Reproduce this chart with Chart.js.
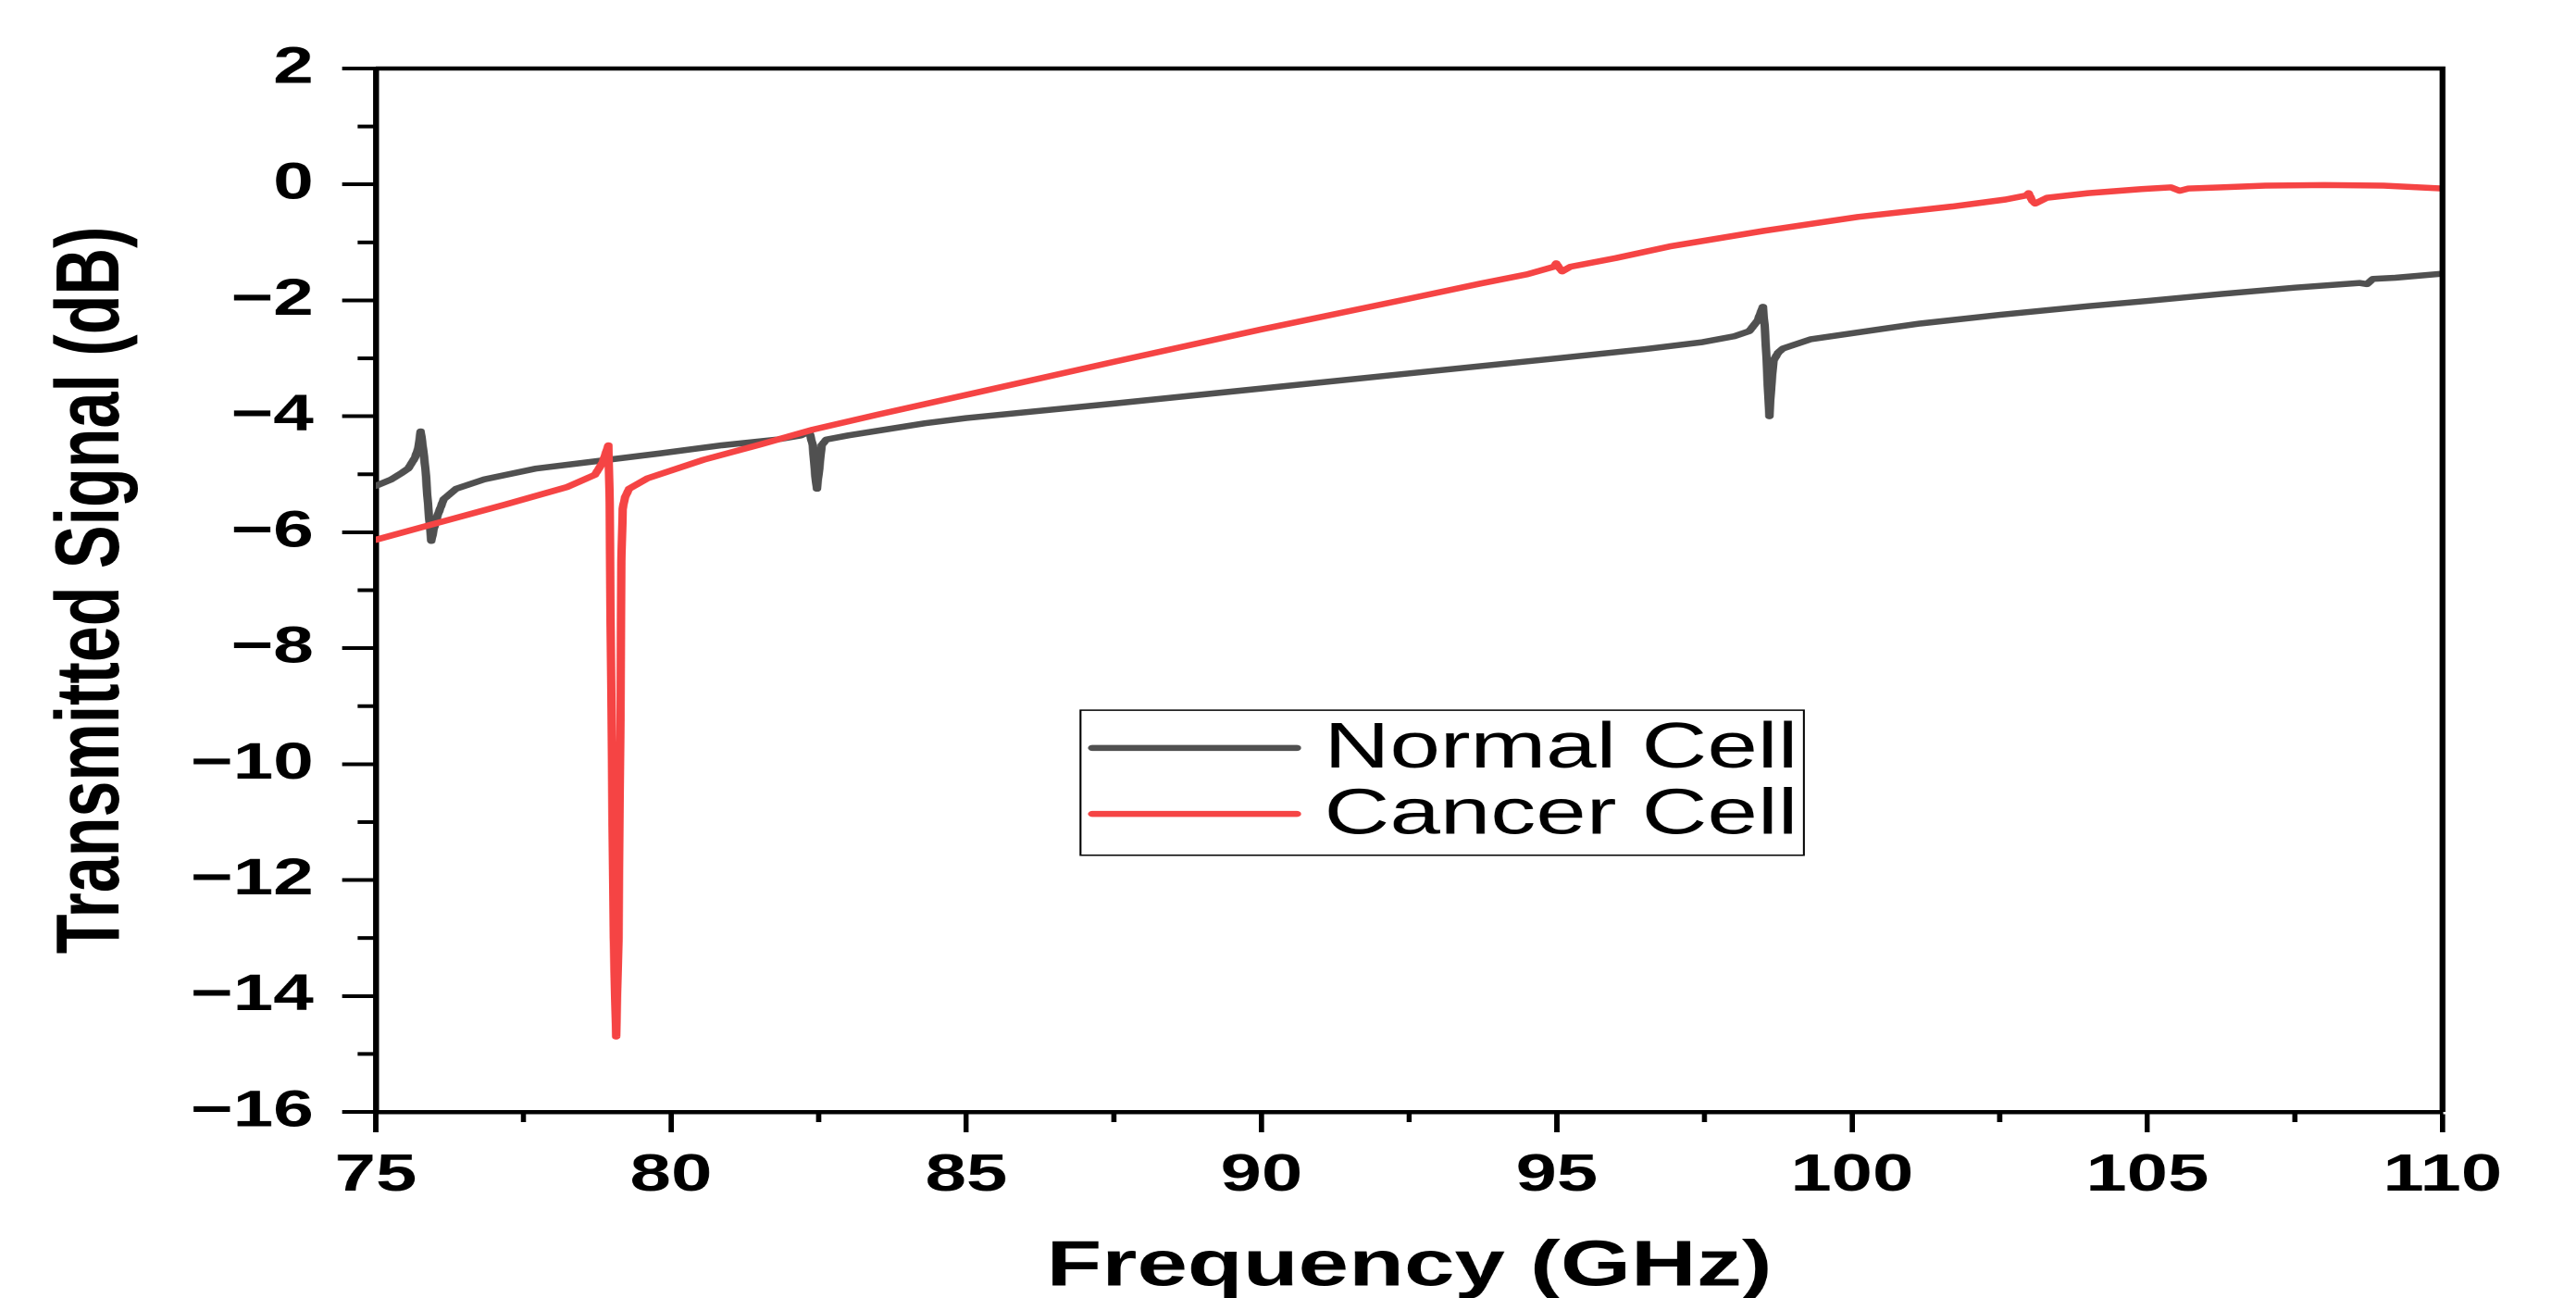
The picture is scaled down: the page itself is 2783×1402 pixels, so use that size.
<!DOCTYPE html>
<html>
<head>
<meta charset="utf-8">
<script src="https://cdn.jsdelivr.net/npm/chart.js@4.4.1/dist/chart.umd.min.js"></script>
<style>
  html, body { margin: 0; padding: 0; background: #fff; overflow: hidden; }
  #wrap { position: absolute; left: 0; top: 0; width: 1988px; height: 1402px; transform-origin: 0 0; transform: scaleX(1.3999); }
</style>
</head>
<body>
<div id="wrap"><canvas id="chart"></canvas></div>
<script>
// Normal cell trace (GHz, dB)
const normalFreq = [75.0, 75.26, 75.45, 75.55, 75.66, 75.72, 75.76, 75.80, 75.84, 75.89, 75.94, 75.98, 76.05, 76.15, 76.36, 76.83,
  77.72, 78.77, 79.81, 80.86, 81.8, 82.2, 82.34, 82.40, 82.44, 82.47, 82.51, 82.55, 82.63, 83.0, 84.3, 85.0,
  87.5, 90.0, 92.5, 95.0, 96.5, 97.47, 98.0, 98.26, 98.40, 98.49, 98.52, 98.54, 98.57, 98.60, 98.63, 98.67,
  98.75, 98.83, 99.3, 100.6, 101.15, 102.5, 104.0, 105.0, 106.25, 107.5, 108.6, 108.72, 108.82, 109.2, 110.0];
const normalDb = [-5.20, -5.09, -4.97, -4.90, -4.72, -4.55, -4.26, -4.55, -4.90, -5.60, -6.15, -5.95, -5.70, -5.43, -5.25, -5.09,
  -4.90, -4.77, -4.64, -4.50, -4.40, -4.33, -4.26, -4.50, -5.00, -5.25, -4.90, -4.50, -4.40, -4.33, -4.12, -4.03,
  -3.78, -3.52, -3.26, -3.00, -2.84, -2.72, -2.62, -2.53, -2.35, -2.11, -2.45, -2.77, -3.40, -4.00, -3.50, -3.04,
  -2.90, -2.83, -2.67, -2.48, -2.40, -2.25, -2.10, -2.01, -1.89, -1.78, -1.70, -1.72, -1.63, -1.61, -1.54];

// Cancer cell trace (GHz, dB)
const cancerFreq = [75.0, 76.15, 77.2, 78.24, 78.71, 78.84, 78.94, 78.96, 78.99, 79.03, 79.07, 79.11, 79.14, 79.16, 79.18, 79.22, 79.29,
  79.6, 80.55, 81.5, 82.4, 83.5, 85.0, 87.5, 90.0, 92.5, 93.71, 94.5, 94.95, 94.99, 95.05, 95.09, 95.23,
  96.0, 96.91, 98.51, 100.1, 101.7, 102.6, 102.95, 102.99, 103.05, 103.1, 103.3, 104.0, 104.9, 105.4, 105.55, 105.7,
  106.25, 107.0, 108.0, 109.0, 110.0];
const cancerDb = [-6.13, -5.81, -5.52, -5.22, -5.01, -4.80, -4.50, -5.50, -9.00, -13.0, -14.7, -13.0, -9.50, -6.50, -5.60, -5.40, -5.25,
  -5.07, -4.75, -4.49, -4.23, -3.97, -3.63, -3.06, -2.50, -1.97, -1.71, -1.55, -1.42, -1.36, -1.45, -1.50, -1.42,
  -1.27, -1.07, -0.80, -0.56, -0.38, -0.26, -0.19, -0.15, -0.28, -0.33, -0.23, -0.15, -0.08, -0.05, -0.11, -0.07,
  -0.05, -0.02, -0.01, -0.02, -0.07];

const seriesNames = ['Normal Cell', 'Cancer Cell'];
const xTicks = [75, 110, 5];   // min, max, labelled step
const yTicks = [-16, 2, 2];

const FONT = "'Liberation Sans', Arial, Helvetica, sans-serif";
const LINE_W = 6.5;

const toPoints = (xs, ys) => xs.map((x, i) => ({ x, y: ys[i] }));
const isMajor = (v, step) => Math.abs(v / step - Math.round(v / step)) < 1e-6;
const minus = v => String(v).replace('-', '\u2212');

// box on top/right, minor ticks and an in-plot legend
const framePlugin = {
  id: 'frame',
  afterDraw(chart) {
    const { ctx, chartArea: a, scales } = chart;
    ctx.save();
    ctx.strokeStyle = '#000';
    ctx.lineWidth = 4.5;
    ctx.beginPath();
    ctx.moveTo(a.left, a.top);
    ctx.lineTo(a.right, a.top);
    ctx.lineTo(a.right, a.bottom);
    ctx.stroke();

    ctx.lineWidth = 4;
    scales.x.ticks.forEach(t => {
      if (isMajor(t.value, xTicks[2])) return;
      const px = scales.x.getPixelForValue(t.value);
      ctx.beginPath();
      ctx.moveTo(px, a.bottom);
      ctx.lineTo(px, a.bottom + 11);
      ctx.stroke();
    });
    scales.y.ticks.forEach(t => {
      if (isMajor(t.value, yTicks[2])) return;
      const py = scales.y.getPixelForValue(t.value);
      ctx.beginPath();
      ctx.moveTo(a.left, py);
      ctx.lineTo(a.left - 14, py);
      ctx.stroke();
    });

    // legend
    const w = a.right - a.left, h = a.bottom - a.top;
    const bx = a.left + w * 0.341, by = a.top + h * 0.615;
    const bw = w * 0.35, bh = h * 0.139;
    ctx.lineWidth = 1.5;
    ctx.strokeRect(bx, by, bw, bh);
    ctx.font = `70px ${FONT}`;
    ctx.textBaseline = 'middle';
    ctx.textAlign = 'left';
    chart.data.datasets.forEach((ds, i) => {
      const ly = by + bh * (0.26 + 0.455 * i);
      ctx.strokeStyle = ds.borderColor;
      ctx.lineWidth = LINE_W;
      ctx.lineCap = 'round';
      ctx.beginPath();
      ctx.moveTo(bx + 9, ly);
      ctx.lineTo(bx + 167, ly);
      ctx.stroke();
      ctx.fillStyle = '#000';
      ctx.fillText(ds.label, bx + 188, ly + 2);
    });
    ctx.restore();
  }
};

new Chart(document.getElementById('chart'), {
  type: 'line',
  data: {
    datasets: [
      { label: seriesNames[0], data: toPoints(normalFreq, normalDb), borderColor: '#505050', order: 2 },
      { label: seriesNames[1], data: toPoints(cancerFreq, cancerDb), borderColor: '#f54444', order: 1 }
    ]
  },
  options: {
    responsive: true,
    maintainAspectRatio: false,
    animation: false,
    devicePixelRatio: 2,
    layout: { padding: { top: 74, right: 103, left: 0, bottom: 0 } },
    elements: {
      point: { radius: 0 },
      line: { borderWidth: LINE_W, tension: 0, borderJoinStyle: 'round', borderCapStyle: 'round', fill: false }
    },
    plugins: { legend: { display: false }, tooltip: { enabled: false } },
    scales: {
      x: {
        type: 'linear',
        min: xTicks[0], max: xTicks[1],
        afterFit: s => { s.height = 201; },
        border: { display: true, color: '#000', width: 4.5 },
        grid: {
          drawOnChartArea: false, drawTicks: true, tickLength: 22, tickWidth: 4,
          tickColor: c => isMajor(c.tick.value, xTicks[2]) ? '#000' : 'rgba(0,0,0,0)'
        },
        ticks: {
          stepSize: 2.5, autoSkip: false, maxRotation: 0, padding: 13, color: '#000',
          font: { family: FONT, size: 57, weight: 'bold' },
          callback: v => isMajor(v, xTicks[2]) ? String(v) : ''
        },
        title: {
          display: true, text: 'Frequency (GHz)', color: '#000',
          font: { family: FONT, size: 70, weight: 'bold', lineHeight: 1 },
          padding: { top: 0, bottom: -2 }
        }
      },
      y: {
        type: 'linear',
        min: yTicks[0], max: yTicks[1],
        afterFit: s => { s.width = 290; },
        border: { display: true, color: '#000', width: 4.5 },
        grid: {
          drawOnChartArea: false, drawTicks: true, tickLength: 26, tickWidth: 4,
          tickColor: c => isMajor(c.tick.value, yTicks[2]) ? '#000' : 'rgba(0,0,0,0)'
        },
        ticks: {
          stepSize: 1, autoSkip: false, padding: 22, color: '#000',
          font: { family: FONT, size: 56, weight: 'bold' },
          callback: v => isMajor(v, yTicks[2]) ? minus(v) : ''
        },
        title: {
          display: true, text: 'Transmitted Signal (dB)', color: '#000',
          font: { family: FONT, size: 70, weight: 'bold', lineHeight: 1.2 },
          padding: { top: 30, bottom: 0 }
        }
      }
    }
  },
  plugins: [framePlugin]
});
</script>
</body>
</html>
